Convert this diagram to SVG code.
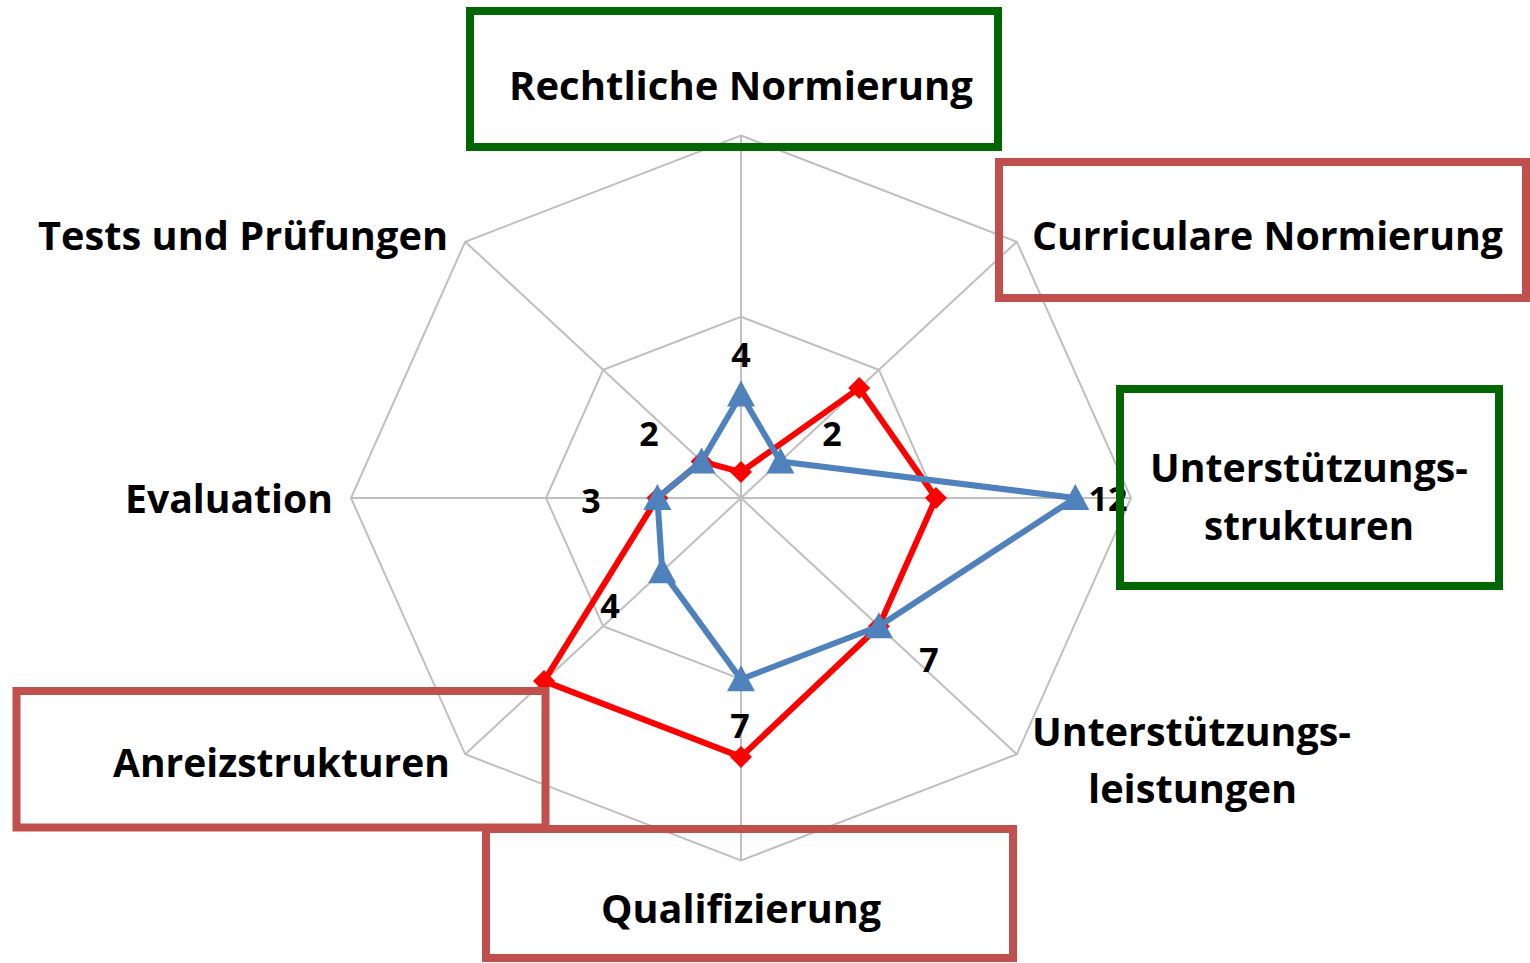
<svg xmlns="http://www.w3.org/2000/svg" width="1530" height="963" viewBox="0 0 1530 963">
<style>
.grid{fill:none;stroke:#BFBFBF;stroke-width:2}
.lbl{font-family:"Open Sans","Liberation Sans",sans-serif;font-weight:700;font-size:40px;fill:#000}
.num{font-family:"Open Sans","Liberation Sans",sans-serif;font-weight:700;font-size:34px;fill:#000;text-anchor:middle}
.gbox{fill:none;stroke:#006600;stroke-width:8}
.rbox{fill:none;stroke:#C0504D;stroke-width:8}
.red{fill:none;stroke:#FF0000;stroke-width:6;stroke-linejoin:round}
.blue{fill:none;stroke:#4F81BD;stroke-width:6;stroke-linejoin:round}
</style>
<defs>
<path id="dia" d="M0,-11 L11,0 L0,11 L-11,0 Z" fill="#FF0000"/>
<path id="tri" d="M0,-14 L14,12 L-14,12 Z" fill="#4F81BD"/>
</defs>
<rect width="1530" height="963" fill="#fff"/>
<g id="grid">
<polygon class="grid" points="741,135.5 1016.8,241.7 1131,498 1016.8,754.3 741,860.5 465.2,754.3 351,498 465.2,241.7"/>
<polygon class="grid" points="741,316.75 878.9,369.8 936,498 878.9,626.2 741,679.25 603.1,626.2 546,498 603.1,369.8"/>
<path class="grid" d="M741,498L741,135.5M741,498L1016.8,241.7M741,498L1131,498M741,498L1016.8,754.3M741,498L741,860.5M741,498L465.2,754.3M741,498L351,498M741,498L465.2,241.7"/>
</g>
<g id="connectors">
<polygon class="red" points="741,472.1 859.2,388.1 936,498 878.9,626.2 741,756.9 544,681.1 657.4,498 701.6,461.4"/>
<use href="#dia" x="741" y="472.1"/><use href="#dia" x="859.2" y="388.1"/><use href="#dia" x="936" y="498"/><use href="#dia" x="878.9" y="626.2"/><use href="#dia" x="741" y="756.9"/><use href="#dia" x="544" y="681.1"/><use href="#dia" x="657.4" y="498"/><use href="#dia" x="701.6" y="461.4"/>
<polygon class="blue" points="741,394.4 780.4,461.4 1075.3,498 878.9,626.2 741,679.2 662.2,571.2 657.4,498 701.6,461.4"/>
<use href="#tri" x="741" y="394.4"/><use href="#tri" x="780.4" y="461.4"/><use href="#tri" x="1075.3" y="498"/><use href="#tri" x="878.9" y="626.2"/><use href="#tri" x="741" y="679.2"/><use href="#tri" x="662.2" y="571.2"/><use href="#tri" x="657.4" y="498"/><use href="#tri" x="701.6" y="461.4"/>
</g>
<g id="datalabels">
<text class="num" x="741" y="367">4</text>
<text class="num" x="832" y="446">2</text>
<text class="num" x="1108" y="511">12</text>
<text class="num" x="929" y="672">7</text>
<text class="num" x="740" y="738">7</text>
<text class="num" x="610" y="618">4</text>
<text class="num" x="591" y="513">3</text>
<text class="num" x="649" y="446">2</text>
</g>
<g id="node-rechtliche">
<rect class="gbox" x="470" y="11" width="528" height="136"/>
<text class="lbl" x="509" y="100" textLength="464" lengthAdjust="spacingAndGlyphs">Rechtliche Normierung</text>
</g>
<g id="node-curriculare">
<rect class="rbox" x="999" y="162" width="527" height="136"/>
<text class="lbl" x="1032" y="250" textLength="471" lengthAdjust="spacingAndGlyphs">Curriculare Normierung</text>
</g>
<g id="node-unterstuetzungsstrukturen">
<rect class="gbox" x="1120" y="389" width="379" height="197"/>
<text class="lbl" x="1150" y="482" textLength="318" lengthAdjust="spacingAndGlyphs">Unterstützungs-</text>
<text class="lbl" x="1204" y="540" textLength="210" lengthAdjust="spacingAndGlyphs">strukturen</text>
</g>
<g id="node-unterstuetzungsleistungen">
<text class="lbl" x="1032" y="746" textLength="319" lengthAdjust="spacingAndGlyphs">Unterstützungs-</text>
<text class="lbl" x="1088" y="803" textLength="209" lengthAdjust="spacingAndGlyphs">leistungen</text>
</g>
<g id="node-qualifizierung">
<rect class="rbox" x="486" y="829" width="527" height="129"/>
<text class="lbl" x="601" y="923" textLength="280" lengthAdjust="spacingAndGlyphs">Qualifizierung</text>
</g>
<g id="node-anreizstrukturen">
<rect class="rbox" x="16.5" y="691" width="529" height="136.5"/>
<text class="lbl" x="113" y="777" textLength="337" lengthAdjust="spacingAndGlyphs">Anreizstrukturen</text>
</g>
<g id="node-evaluation">
<text class="lbl" x="125" y="513" textLength="208" lengthAdjust="spacingAndGlyphs">Evaluation</text>
</g>
<g id="node-tests">
<text class="lbl" x="38" y="250" textLength="410" lengthAdjust="spacingAndGlyphs">Tests und Prüfungen</text>
</g>
</svg>
